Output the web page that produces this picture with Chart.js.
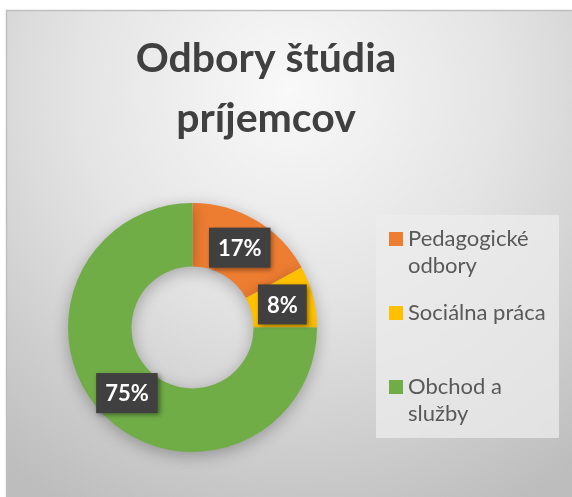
<!DOCTYPE html>
<html><head><meta charset="utf-8">
<script src="https://cdn.jsdelivr.net/npm/chart.js@4/dist/chart.umd.min.js"></script>
<style>html,body{margin:0;padding:0;background:#fff;overflow:hidden}canvas{display:block}</style>
</head><body>
<canvas id="c" width="572" height="497"></canvas>
<script>
const titleLines = ['Odbory štúdia', 'príjemcov'];
const categories = ['Pedagogické odbory', 'Sociálna práca', 'Obchod a služby'];
const values = [17, 8, 75];
const colors = ['#ED7D31', '#FFC000', '#70AD47'];

const FONT = 'Lato, "Open Sans", sans-serif';

function wrap(ctx, text, maxW) {
  const words = text.split(' ');
  const lines = [];
  let cur = '';
  for (const w of words) {
    const t = cur ? cur + ' ' + w : w;
    if (cur && ctx.measureText(t).width > maxW) { lines.push(cur); cur = w; }
    else cur = t;
  }
  if (cur) lines.push(cur);
  return lines;
}

const backdrop = {
  id: 'backdrop',
  beforeDraw(chart) {
    const ctx = chart.ctx;
    ctx.save();
    ctx.fillStyle = '#ffffff';
    ctx.fillRect(0, 0, 572, 497);
    const g = ctx.createRadialGradient(289, 90, 0, 289, 90, 470);
    g.addColorStop(0, '#f9f9f9');
    g.addColorStop(0.45, '#e4e4e4');
    g.addColorStop(1, '#bdbdbd');
    ctx.fillStyle = g;
    ctx.fillRect(6, 10, 566, 487);
    ctx.strokeStyle = '#bfbfbf';
    ctx.lineWidth = 1.5;
    ctx.strokeRect(6.5, 10.5, 570, 490);
    // title
    ctx.fillStyle = '#404040';
    ctx.font = 'bold 41px ' + FONT;
    ctx.textAlign = 'center';
    ctx.textBaseline = 'alphabetic';
    ctx.fillText(titleLines[0], 266, 72);
    ctx.fillText(titleLines[1], 266, 132);
    // legend box
    ctx.fillStyle = 'rgba(236,236,236,0.75)';
    ctx.fillRect(376, 215, 183, 223);
    // legend items
    ctx.font = '22px ' + FONT;
    ctx.textAlign = 'left';
    const tops = [232, 306, 380];
    categories.forEach((c, i) => {
      ctx.fillStyle = colors[i];
      ctx.fillRect(389, tops[i], 14, 14);
      ctx.fillStyle = '#595959';
      const lines = wrap(ctx, c, 145);
      lines.forEach((ln, j) => ctx.fillText(ln, 408, tops[i] + 14 + j * 27));
    });
    ctx.restore();
  },
  beforeDatasetsDraw(chart) {
    const ctx = chart.ctx;
    ctx.save();
    ctx.shadowColor = 'rgba(0,0,0,0.28)';
    ctx.shadowBlur = 16;
    ctx.shadowOffsetY = 4;
  },
  afterDatasetsDraw(chart) {
    const ctx = chart.ctx;
    ctx.restore();
    const meta = chart.getDatasetMeta(0);
    ctx.save();
    ctx.font = 'bold 22px ' + FONT;
    ctx.textAlign = 'center';
    ctx.textBaseline = 'middle';
    meta.data.forEach((arc, i) => {
      const p = arc.tooltipPosition(true);
      const txt = values[i] + '%';
      const w = ctx.measureText(txt).width + 18;
      const h = 40;
      ctx.save();
      ctx.shadowColor = 'rgba(0,0,0,0.45)';
      ctx.shadowBlur = 5;
      ctx.shadowOffsetX = 2;
      ctx.shadowOffsetY = 2;
      ctx.fillStyle = '#404040';
      ctx.fillRect(p.x - w / 2, p.y - h / 2, w, h);
      ctx.restore();
      ctx.fillStyle = '#ffffff';
      ctx.fillText(txt, p.x, p.y + 1);
    });
    ctx.restore();
  }
};

new Chart(document.getElementById('c'), {
  type: 'doughnut',
  data: {
    labels: categories,
    datasets: [{ data: values, backgroundColor: colors, borderWidth: 0 }]
  },
  options: {
    responsive: false,
    animation: false,
    devicePixelRatio: 1,
    cutout: '49%',
    layout: { padding: { left: 68, right: 255, top: 203, bottom: 45 } },
    plugins: { legend: { display: false }, title: { display: false }, tooltip: { enabled: false } }
  },
  plugins: [backdrop]
});
</script>
</body></html>
